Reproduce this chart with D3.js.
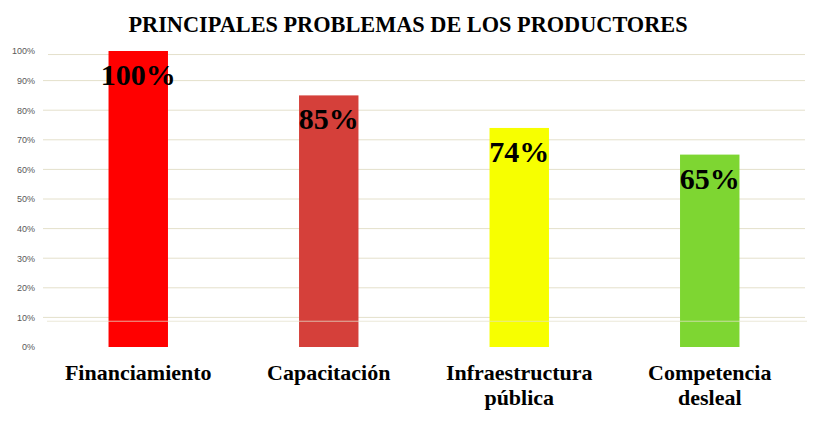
<!DOCTYPE html>
<html>
<head>
<meta charset="utf-8">
<script src="https://cdn.jsdelivr.net/npm/d3@7"></script>
<style>
  html, body { margin: 0; padding: 0; background: #fff; }
  svg { display: block; }
</style>
</head>
<body>
<svg id="chart" width="819" height="426"></svg>
<script>
const title = "PRINCIPALES PROBLEMAS DE LOS PRODUCTORES";
const categories = [["Financiamiento"], ["Capacitación"], ["Infraestructura", "pública"], ["Competencia", "desleal"]];
const values = [1.00, 0.85, 0.74, 0.65];
const valueLabels = ["100%", "85%", "74%", "65%"];
const barColors = ["#ff0000", "#d5403a", "#f7ff00", "#7ed632"];
const tickValues = [0, 0.1, 0.2, 0.3, 0.4, 0.5, 0.6, 0.7, 0.8, 0.9, 1.0];
const gridValues = [0.1, 0.2, 0.3, 0.4, 0.5, 0.6, 0.7, 0.8, 0.9, 0.988];
const overlayLine = [0.087];

const svg = d3.select("#chart");
const left = 43, right = 805;
const y = d3.scaleLinear().domain([0, 1]).range([347, 51]);
const x = d3.scaleBand().domain(d3.range(categories.length)).range([left, right]).paddingInner(0.688).paddingOuter(0.344);

// title
svg.append("text")
  .attr("x", 408).attr("y", 32)
  .attr("text-anchor", "middle")
  .attr("font-family", "Liberation Serif, Times New Roman, serif")
  .attr("font-weight", "bold")
  .attr("font-size", 22.3)
  .attr("fill", "#000")
  .text(title);

// gridlines
svg.append("g").selectAll("line").data(gridValues).join("line")
  .attr("x1", d => d > 0.95 ? 48 : left).attr("x2", right)
  .attr("y1", d => y(d)).attr("y2", d => y(d))
  .attr("stroke", "#e4e0cb").attr("stroke-width", 1);

// y axis labels
const yAxis = d3.axisLeft(y).tickValues(tickValues).tickFormat(d3.format(".0%")).tickSize(0).tickPadding(0);
const ya = svg.append("g").attr("transform", "translate(35,0)").call(yAxis);
ya.select(".domain").remove();
ya.selectAll("text")
  .attr("font-family", "Liberation Sans, Arial, sans-serif")
  .attr("font-size", 9)
  .attr("fill", "#595959");

// bars
svg.append("g").selectAll("rect").data(values).join("rect")
  .attr("x", (d, i) => x(i))
  .attr("width", x.bandwidth())
  .attr("y", d => y(d))
  .attr("height", d => y(0) - y(d))
  .attr("fill", (d, i) => barColors[i]);

// overlay line
svg.append("g").selectAll("line").data(overlayLine).join("line")
  .attr("x1", 47).attr("x2", 807)
  .attr("y1", d => y(d)).attr("y2", d => y(d))
  .attr("stroke", "#e4e0cb").attr("stroke-opacity", 0.75).attr("stroke-width", 1);

// value labels
svg.append("g").selectAll("text").data(values).join("text")
  .attr("x", (d, i) => x(i) + x.bandwidth() / 2)
  .attr("y", d => y(d) + 34)
  .attr("text-anchor", "middle")
  .attr("font-family", "Liberation Serif, Times New Roman, serif")
  .attr("font-weight", "bold")
  .attr("font-size", 30)
  .attr("fill", "#000")
  .text((d, i) => valueLabels[i]);

// category labels
const cat = svg.append("g").selectAll("text").data(categories).join("text")
  .attr("x", (d, i) => x(i) + x.bandwidth() / 2)
  .attr("y", 380)
  .attr("text-anchor", "middle")
  .attr("font-family", "Liberation Serif, Times New Roman, serif")
  .attr("font-weight", "bold")
  .attr("font-size", 22)
  .attr("fill", "#000");
cat.selectAll("tspan").data((d, i) => d.map(t => ({t, i}))).join("tspan")
  .attr("x", d => x(d.i) + x.bandwidth() / 2)
  .attr("dy", (d, j) => j === 0 ? 0 : 25)
  .text(d => d.t);
</script>
</body>
</html>
